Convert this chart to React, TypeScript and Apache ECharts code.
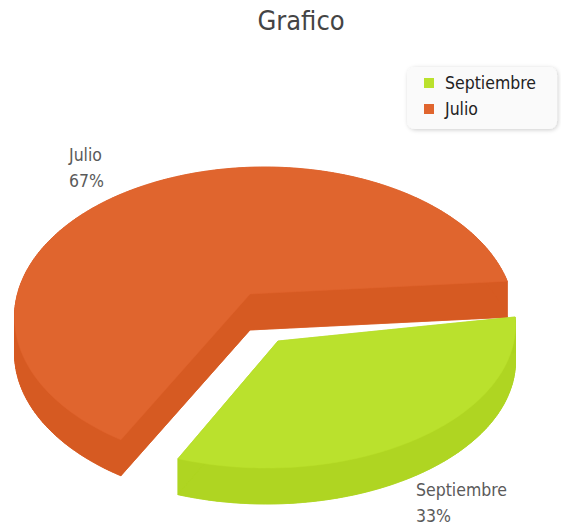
import React, { useEffect, useRef } from "react";
import * as echarts from "echarts";

const categories = ["Septiembre", "Julio"];
const values = [1, 2];
const topColors = ["#BAE12D", "#E0652E"];
const sideColors = ["#AFD522", "#D65A22"];
const titleText = "Grafico";

const FONT = '"DejaVu Sans Condensed", "DejaVu Sans", sans-serif';
const DEPTH = 36;

// Drawing geometry of each slice in the tilted view (not data).
const views = [
  { cx: 266.5, cy: 325, rx: 249, ry: 143, fx: 0.007, fy: 0.07, apex: [278, 341], start: -7.25, label: [416, 477] },
  { cx: 264.5, cy: 317, rx: 250, ry: 150, fx: -0.07, fy: -0.18, apex: [250, 294], start: 116.8, label: [69, 142] },
];

function rimPoints(v: (typeof views)[number], share: number) {
  const pts: number[][] = [];
  const steps = Math.ceil(share * 360);
  for (let i = 0; i <= steps; i++) {
    const a = ((v.start + (share * 360 * i) / steps) * Math.PI) / 180;
    const dx = Math.cos(a);
    const dy = Math.sin(a);
    const b = v.fx * dx + v.fy * dy;
    const c = v.fx * v.fx + v.fy * v.fy - 1;
    const t = -b + Math.sqrt(b * b - c);
    pts.push([v.cx + v.rx * (v.fx + t * dx), v.cy + v.ry * (v.fy + t * dy)]);
  }
  return pts;
}

const total = values.reduce((s, x) => s + x, 0);

function makeRender(idx: number) {
  return (_params: any, api: any) => {
    const share = (api.value(0) as number) / total;
    const v = views[idx];
    const rim = rimPoints(v, share);
    const top = [v.apex, ...rim];
    const shift = (p: number[]) => [p[0], p[1] + DEPTH];
    const lower = top.map(shift);
    const sideStyle = { fill: sideColors[idx] };
    const children: any[] = [];
    // extruded rim and cut faces
    for (let i = 0; i < top.length; i++) {
      const j = (i + 1) % top.length;
      children.push({
        type: "polygon",
        shape: { points: [top[i], top[j], lower[j], lower[i]] },
        style: { ...sideStyle, stroke: sideColors[idx], lineWidth: 0.6 },
      });
    }
    children.push({
      type: "polygon",
      shape: { points: lower },
      style: { ...sideStyle, stroke: sideColors[idx], lineWidth: 0.6 },
    });
    children.push({
      type: "polygon",
      shape: { points: top },
      style: { fill: topColors[idx], stroke: topColors[idx], lineWidth: 0.5 },
    });
    children.push({
      type: "text",
      x: v.label[0],
      y: v.label[1],
      style: {
        text: `${categories[idx]}\n${Math.round(share * 100)}%`,
        font: `17.5px ${FONT}`,
        fill: "#5a5a5a",
        lineHeight: 26,
        textAlign: "left",
        textVerticalAlign: "top",
      },
    });
    return { type: "group", children };
  };
}

export default function App() {
  const ref = useRef<HTMLDivElement>(null);
  useEffect(() => {
    const chart = echarts.init(ref.current!, null, { renderer: "svg" });
    const order = [1, 0];
    chart.setOption({
      animation: false,
      backgroundColor: "#ffffff",
      title: {
        text: titleText,
        left: 296,
        top: 2,
        textAlign: "center",
        textStyle: { fontFamily: FONT, fontSize: 27, fontWeight: "normal", color: "#444444" },
      },
      legend: {
        orient: "vertical",
        left: 407,
        top: 67,
        data: categories,
        icon: "rect",
        itemWidth: 10,
        itemHeight: 10,
        itemGap: 8,
        padding: [7, 21, 11, 17],
        backgroundColor: "#fafafa",
        borderRadius: 8,
        shadowBlur: 4,
        shadowColor: "rgba(0,0,0,0.2)",
        shadowOffsetX: 1,
        shadowOffsetY: 1,
        textStyle: { fontFamily: FONT, fontSize: 17.5, color: "#222222", padding: [0, 0, 0, 6] },
      },
      series: order.map((idx) => ({
        type: "custom",
        name: categories[idx],
        coordinateSystem: "none",
        clip: false,
        silent: true,
        itemStyle: { color: topColors[idx] },
        renderItem: makeRender(idx),
        data: [[values[idx]]],
      })),
    });
    return () => chart.dispose();
  }, []);
  return <div ref={ref} style={{ position: "absolute", left: 0, top: 0, width: 561, height: 531 }} />;
}
